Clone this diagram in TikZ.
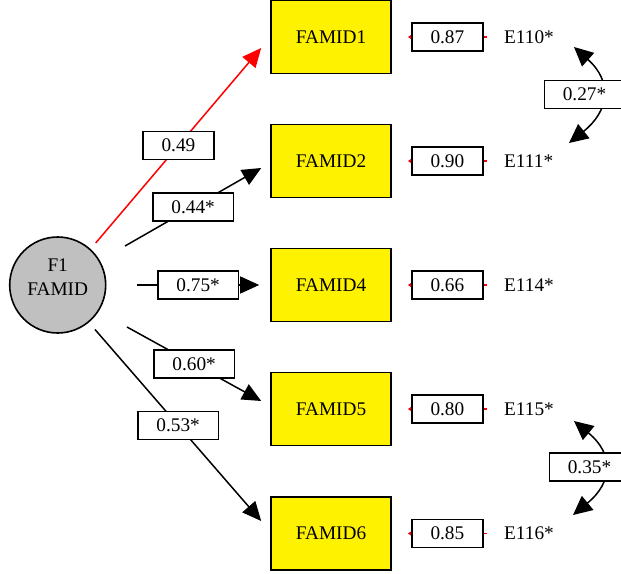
\documentclass[tikz,border=0pt]{standalone}
\usepackage{fontspec}
\setmainfont{Liberation Serif}
\usetikzlibrary{arrows.meta,calc}
\definecolor{latgray}{RGB}{192,192,192}
\begin{document}
\begin{tikzpicture}[x=1pt,y=-1pt,
  every node/.style={font=\fontsize{19.3}{24}\selectfont},
  obs/.style={draw=black, line width=1.6pt, fill=yellow, minimum width=120pt, minimum height=73pt, inner sep=0pt},
  val/.style={draw=black, text=black, line width=1.5pt, fill=white, inner xsep=18.5pt, inner ysep=0pt, minimum height=28pt},
  big/.style={-{Triangle[length=19pt,width=17pt]}, line width=1.5pt},
  cov/.style={{Triangle[length=19pt,width=18pt]}-{Triangle[length=19pt,width=18pt]}, line width=1.5pt},
  errarr/.style={red, line width=1.5pt, -{Triangle[length=5pt,width=6pt]}},
  elab/.style={anchor=west, inner sep=0pt},
]
\useasboundingbox (0,0) rectangle (621,573);

% latent factor
\node[circle, draw, line width=1.6pt, fill=latgray, minimum size=96pt, inner sep=0pt] (f1) at (57.7,285) {};
\node[align=center, inner sep=0pt] (f1txt) at (57.7,277.5) {F1\\FAMID};

% observed variables
\node[obs] (famid1) at (331,37) {FAMID1};
\node[obs] (famid2) at (331,161) {FAMID2};
\node[obs] (famid4) at (331,285) {FAMID4};
\node[obs] (famid5) at (331,409) {FAMID5};
\node[obs] (famid6) at (331,533.5) {FAMID6};

% error labels
\node[elab] (e110) at (504,37) {E110*};
\node[elab] (e111) at (504,161) {E111*};
\node[elab] (e114) at (504,285) {E114*};
\node[elab] (e115) at (504,409) {E115*};
\node[elab] (e116) at (504,533.5) {E116*};

% start points of loadings
\coordinate (s1) at (95.7,243);
\coordinate (s2) at (125,246);
\coordinate (s3) at (137,285);
\coordinate (s4) at (127,327);
\coordinate (s5) at (95,329.5);

% loadings
\draw[big, red] (s1) -- ($(famid1.west)+(-9,11)$) node[midway, val] (l1) {0.49};
\draw[big] (s2) -- ($(famid2.west)+(-9,7)$) node[midway, val] (l2) {0.44*};
\draw[big] (s3) -- ($(famid4.west)+(-11,0)$) node[midway, val] (l4) {0.75*};
\draw[big] (s4) -- ($(famid5.west)+(-9,-8)$) node[midway, val] (l5) {0.60*};
\draw[big] (s5) -- ($(famid6.west)+(-9,-12.5)$) node[midway, val] (l6) {0.53*};

% error paths
\draw[errarr] ($(e110.west)+(-17,0)$) -- ($(famid1.east)+(16,0)$) node[midway, val] (v1) {0.87};
\draw[errarr] ($(e111.west)+(-17,0)$) -- ($(famid2.east)+(16,0)$) node[midway, val] (v2) {0.90};
\draw[errarr] ($(e114.west)+(-17,0)$) -- ($(famid4.east)+(16,0)$) node[midway, val] (v4) {0.66};
\draw[errarr] ($(e115.west)+(-17,0)$) -- ($(famid5.east)+(16,0)$) node[midway, val] (v5) {0.80};
\draw[errarr] ($(e116.west)+(-17,0)$) -- ($(famid6.east)+(16,0)$) node[midway, val] (v6) {0.85};

% covariances
\coordinate (c1a) at (574,47);
\coordinate (c1b) at (569,143);
\coordinate (c2a) at (574,421);
\coordinate (c2b) at (573,515);
\draw[cov] (c1a) .. controls (613,82) and (609,111) .. (c1b);
\draw[cov] (c2a) .. controls (614,454) and (613,482) .. (c2b);
\node[val] (k1) at (584.5,94.5) {0.27*};
\node[val] (k2) at (589.5,467) {0.35*};
\end{tikzpicture}
\end{document}
